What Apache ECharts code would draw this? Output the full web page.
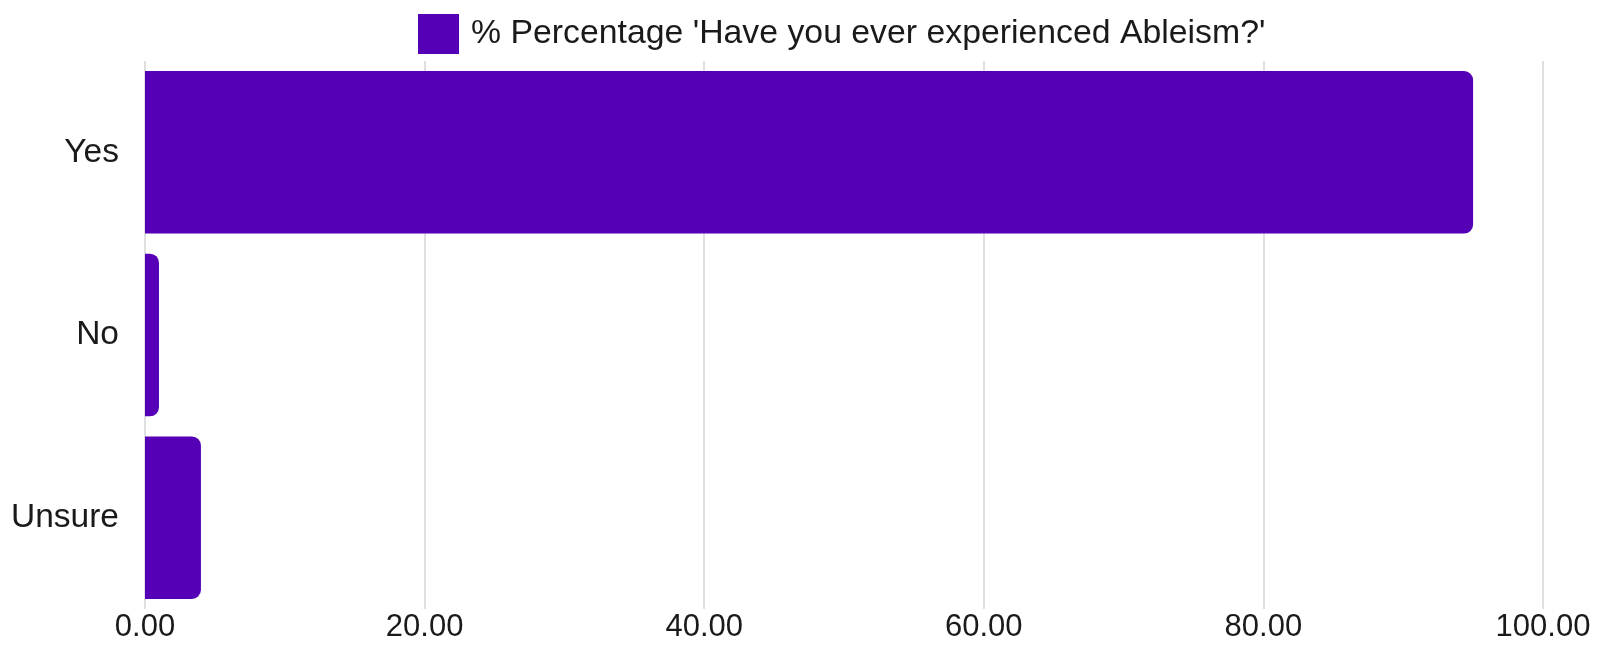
<!DOCTYPE html>
<html><head><meta charset="utf-8">
<script src="https://cdn.jsdelivr.net/npm/echarts@6/dist/echarts.min.js"></script>
<style>html,body{margin:0;padding:0;background:#fff}#c{width:1598px;height:650px}</style>
</head><body><div id="c"></div>
<script>
const categories = ['Yes', 'No', 'Unsure'];
const values = [95.0, 1.0, 4.0];
const seriesName = "% Percentage 'Have you ever experienced Ableism?'";
const xTicks = [0, 20, 40, 60, 80, 100];

const chart = echarts.init(document.getElementById('c'));
chart.setOption({
  animation: false,
  textStyle: { fontFamily: 'Liberation Sans, Arial, sans-serif' },
  legend: {
    top: 9, left: 413,
    itemWidth: 41, itemHeight: 40, itemGap: 10,
    icon: 'rect',
    textStyle: { fontSize: 33.8, color: '#1a1a1a', fontFamily: 'Liberation Sans', padding: [0, 0, 0, 7] },
    data: [seriesName]
  },
  grid: { left: 145, right: 55, top: 61, bottom: 41, containLabel: false },
  xAxis: {
    type: 'value', min: 0, max: 100, interval: 20,
    axisLine: { show: false }, axisTick: { show: false },
    splitLine: { show: true, lineStyle: { color: '#e0e0e0', width: 2 } },
    axisLabel: { fontSize: 31, color: '#1a1a1a', margin: 3,
      formatter: v => xTicks.includes(v) ? v.toFixed(2) : '' }
  },
  yAxis: {
    type: 'category', data: categories, inverse: true,
    axisLine: { show: false }, axisTick: { show: false },
    axisLabel: { fontSize: 33.5, color: '#1a1a1a', margin: 26 }
  },
  series: [{
    name: seriesName, type: 'bar', data: values,
    barCategoryGap: '11%',
    itemStyle: { color: '#5500b7', borderRadius: [0, 9, 9, 0] }
  }]
});
</script></body></html>
